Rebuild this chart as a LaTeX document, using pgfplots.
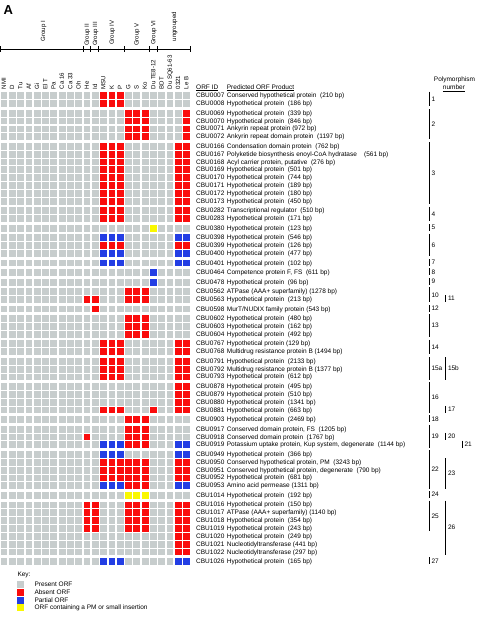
\documentclass[border=0pt]{standalone}
\usepackage{pgfplots}
\pgfplotsset{compat=1.18}
\usepackage{pgfplotstable}
\usepackage{fontspec}
\setmainfont{Liberation Sans}
\definecolor{cgray}{RGB}{199,205,205}
\definecolor{cred}{RGB}{250,12,12}
\definecolor{cblue}{RGB}{35,62,228}
\definecolor{cyel}{RGB}{250,248,0}
\newcommand\sm{\fontsize{6.5}{7.5}\selectfont}
\newcommand\smr{\fontsize{6.1}{7}\selectfont}

% g = present ORF, r = absent ORF, b = partial ORF, y = ORF containing a PM or small insertion
\pgfplotstableread{
y c0 c1 c2 c3 c4 c5 c6 c7 c8 c9 c10 c11 c12 c13 c14 c15 c16 c17 c18 c19 c20 c21 c22
95.5   g g g g g g g g g g g g r r r g g g g g g g g
103.35 g g g g g g g g g g g g r r r g g g g g g g g
112.9  g g g g g g g g g g g g g g g r r r g g g g r
120.75 g g g g g g g g g g g g g g g r r r g g g g r
128.6  g g g g g g g g g g g g g g g r r r g g g g r
136.45 g g g g g g g g g g g g g g g r r r g g g g r
146.0  g g g g g g g g g g g g r r r g g g g g g r r
153.85 g g g g g g g g g g g g r r r g g g g g g r r
161.7  g g g g g g g g g g g g r r r g g g g g g r r
169.55 g g g g g g g g g g g g r r r g g g g g g r r
177.4  g g g g g g g g g g g g r r r g g g g g g r r
185.25 g g g g g g g g g g g g r r r g g g g g g r r
193.1  g g g g g g g g g g g g r r r g g g g g g r r
200.95 g g g g g g g g g g g g r r r g g g g g g r r
210.5  g g g g g g g g g g g g r r r g g g g g g r r
218.35 g g g g g g g g g g g g r r r g g g g g g r r
227.9  g g g g g g g g g g g g g g g g g g y g g g g
237.45 g g g g g g g g g g g g b b b g g g g g g b b
245.3  g g g g g g g g g g g g r r r g g g g g g r r
253.15 g g g g g g g g g g g g b b b g g g g g g b b
262.7  g g g g g g g g g g g g b b b g g g g g g b b
272.25 g g g g g g g g g g g g g g g g g g b g g g g
281.8  g g g g g g g g g g g g g g g g g g b g g g g
291.35 g g g g g g g g g g g g g g g r r r g g g g g
299.2  g g g g g g g g g g r r g g g r r r g g g g g
308.75 g g g g g g g g g g g r g g g g g g g g g g g
318.3  g g g g g g g g g g g g g g g r r r g g g g g
326.15 g g g g g g g g g g g g g g g r r r g g g g g
334.0  g g g g g g g g g g g g g g g r r r g g g g g
343.55 g g g g g g g g g g g g r r r g g g g g g r r
351.4  g g g g g g g g g g g g r r r g g g g g g r r
360.95 g g g g g g g g g g g g r r r g g g g g g r r
368.8  g g g g g g g g g g g g r r r g g g g g g r r
376.65 g g g g g g g g g g g g r r r g g g g g g r r
386.2  g g g g g g g g g g g g g g g g g g g g g r r
394.05 g g g g g g g g g g g g g g g g g g g g g r r
401.9  g g g g g g g g g g g g g g g g g g g g g r r
409.75 g g g g g g g g g g g g r r r g g g r g g r r
419.3  g g g g g g g g g g g g g g g r r r g g g g g
428.85 g g g g g g g g g g g g g g g r r r g g g g g
436.7  g g g g g g g g g g r g g g g r r r g g g g g
444.55 g g g g g g g g g g g g b b b r r r g g g b b
454.1  g g g g g g g g g g g g b b b g g g g g g b b
461.95 g g g g g g g g g g g g r r r r r r g g g r r
469.8  g g g g g g g g g g g g r r r r r r g g g r r
477.65 g g g g g g g g g g g g r r r r r r g g g r r
485.5  g g g g g g g g g g g g b b b r r r g g g b b
495.05 g g g g g g g g g g g g g g g y y y g g g g g
504.6  g g g g g g g g g g r r g g g r r r g g g r r
512.45 g g g g g g g g g g r r g g g r r r g g g r r
520.3  g g g g g g g g g g r r g g g r r r g g g r r
528.15 g g g g g g g g g g r r g g g r r r g g g r r
536.0  g g g g g g g g g g g g g g g g g g g g g r r
543.85 g g g g g g g g g g g g g g g g g g g g g r r
551.7  g g g g g g g g g g g g g g g g g g g g g r r
561.25 g g g g g g g g g g g g b b b g g g g g g b b
}\grid

\tikzset{t/.style={font=\sm, inner sep=0pt},
  rl/.style={font=\smr, inner sep=0pt, rotate=90, anchor=west, text height=4.3pt, text depth=0pt},
  tx/.style={t, anchor=base west, yshift=-2.3pt},
  pn/.style={t, anchor=west}}
\newcommand\orf[3]{\node[tx] at (axis cs:196,#1) {#2}; \node[tx] at (axis cs:226.7,#1) {#3};}
\newcommand\pbar[6]{\draw[line width=1.1pt] (axis cs:#1,#2) -- (axis cs:#1,#3); \node[pn] at (axis cs:#4,#5) {#6};}

\begin{document}
\begin{tikzpicture}
\begin{axis}[x=1pt, y=1pt, y dir=reverse, xmin=0, xmax=480, ymin=0, ymax=619,
  hide axis, clip=false,
  scatter/classes={g={cgray}, r={cred}, b={cblue}, y={cyel}}]

\pgfplotsinvokeforeach{0,...,22}{
  \addplot[scatter, only marks, mark=square*, mark size=2.9pt, scatter src=explicit symbolic]
    table[x expr=3.7+8.3*#1, y=y, meta=c#1]{\grid};
}

% key
\addplot[only marks, mark=square*, mark size=3.0pt, color=cgray] coordinates {(20.3,583.7)};
\addplot[only marks, mark=square*, mark size=3.0pt, color=cred] coordinates {(20.3,591.7)};
\addplot[only marks, mark=square*, mark size=3.0pt, color=cblue] coordinates {(20.3,599.7)};
\addplot[only marks, mark=square*, mark size=3.0pt, color=cyel] coordinates {(20.3,607.5)};
\node[tx] at (axis cs:17.3,574.3) {Key:};
\node[tx] at (axis cs:34.3,583.7) {Present ORF};
\node[tx] at (axis cs:34.3,591.7) {Absent ORF};
\node[tx] at (axis cs:34.3,599.7) {Partial ORF};
\node[tx] at (axis cs:34.3,607.5) {ORF containing a PM or small insertion};

% panel letter
\node[anchor=base west, inner sep=0pt, font=\fontsize{13}{15}\selectfont\bfseries] at (axis cs:3.5,14) {A};

% group header
\draw[line width=0.6pt] (axis cs:0.7,49.3) -- (axis cs:190.7,49.3);
\draw[line width=0.6pt] (axis cs:0.7,46.3) -- (axis cs:0.7,52.3);
\draw[line width=0.6pt] (axis cs:83.3,46.3) -- (axis cs:83.3,52.3);
\draw[line width=0.6pt] (axis cs:90.7,46.3) -- (axis cs:90.7,52.3);
\draw[line width=0.6pt] (axis cs:98.3,46.3) -- (axis cs:98.3,52.3);
\draw[line width=0.6pt] (axis cs:124.1,46.3) -- (axis cs:124.1,52.3);
\draw[line width=0.6pt] (axis cs:149.0,46.3) -- (axis cs:149.0,52.3);
\draw[line width=0.6pt] (axis cs:157.3,46.3) -- (axis cs:157.3,52.3);
\draw[line width=0.6pt] (axis cs:190.7,46.3) -- (axis cs:190.7,52.3);
\node[rl] at (axis cs:43,41.5) {Group I};
\node[rl] at (axis cs:86.7,46) {Group II};
\node[rl] at (axis cs:95,46) {Group III};
\node[rl] at (axis cs:111.6,45) {Group IV};
\node[rl] at (axis cs:136.5,46) {Group V};
\node[rl] at (axis cs:153.1,45) {Group VI};
\node[rl] at (axis cs:174,41.5) {ungrouped};

% strain labels
\node[rl] at (axis cs:3.7,89.5) {NMI};
\node[rl] at (axis cs:12.0,89.5) {D};
\node[rl] at (axis cs:20.3,89.5) {Tu};
\node[rl] at (axis cs:28.6,89.5) {Af};
\node[rl] at (axis cs:36.9,89.5) {Gi};
\node[rl] at (axis cs:45.2,89.5) {El T};
\node[rl] at (axis cs:53.5,89.5) {Pa};
\node[rl] at (axis cs:61.8,89.5) {Ca 16};
\node[rl] at (axis cs:70.1,89.5) {Ca 33};
\node[rl] at (axis cs:78.4,89.5) {Oh};
\node[rl] at (axis cs:86.7,89.5) {He};
\node[rl] at (axis cs:95.0,89.5) {Id};
\node[rl] at (axis cs:103.3,89.5) {MSU};
\node[rl] at (axis cs:111.6,89.5) {K};
\node[rl] at (axis cs:119.9,89.5) {P};
\node[rl] at (axis cs:128.2,89.5) {G};
\node[rl] at (axis cs:136.5,89.5) {S};
\node[rl] at (axis cs:144.8,89.5) {Ko};
\node[rl] at (axis cs:153.1,89.5) {Du TE8-12};
\node[rl] at (axis cs:161.4,89.5) {BDT};
\node[rl] at (axis cs:169.7,89.5) {Du SQ61-63};
\node[rl] at (axis cs:178.0,89.5) {0321};
\node[rl] at (axis cs:186.3,89.5) {Le B};

% column headers
\node[tx] at (axis cs:196,86.7) {\underline{ORF ID}};
\node[tx] at (axis cs:226.7,86.7) {\underline{Predicted ORF Product}};
\node[t, anchor=base] at (axis cs:454.5,81.3) {Polymorphism};
\node[t, anchor=base] at (axis cs:454,89.3) {\underline{number}};

% ORF rows
\orf{95.5}{CBU0007}{Conserved hypothetical protein~~(210 bp)}
\orf{103.35}{CBU0008}{Hypothetical protein~~(186 bp)}
\orf{112.9}{CBU0069}{Hypothetical protein~~(339 bp)}
\orf{120.75}{CBU0070}{Hypothetical protein~~(846 bp)}
\orf{128.6}{CBU0071}{Ankyrin repeat protein (972 bp)}
\orf{136.45}{CBU0072}{Ankyrin repeat domain protein~~(1197 bp)}
\orf{146.0}{CBU0166}{Condensation domain protein~~(762 bp)}
\orf{153.85}{CBU0167}{Polyketide biosynthesis enoyl-CoA hydratase~~~~(561 bp)}
\orf{161.7}{CBU0168}{Acyl carrier protein, putative~~(276 bp)}
\orf{169.55}{CBU0169}{Hypothetical protein~~(501 bp)}
\orf{177.4}{CBU0170}{Hypothetical protein~~(744 bp)}
\orf{185.25}{CBU0171}{Hypothetical protein~~(189 bp)}
\orf{193.1}{CBU0172}{Hypothetical protein~~(180 bp)}
\orf{200.95}{CBU0173}{Hypothetical protein~~(450 bp)}
\orf{210.5}{CBU0282}{Transcriptional regulator~~(510 bp)}
\orf{218.35}{CBU0283}{Hypothetical protein~~(171 bp)}
\orf{227.9}{CBU0380}{Hypothetical protein~~(123 bp)}
\orf{237.45}{CBU0398}{Hypothetical protein~~(546 bp)}
\orf{245.3}{CBU0399}{Hypothetical protein~~(126 bp)}
\orf{253.15}{CBU0400}{Hypothetical protein~~(477 bp)}
\orf{262.7}{CBU0401}{Hypothetical protein~~(102 bp)}
\orf{272.25}{CBU0464}{Competence protein F, FS~~(611 bp)}
\orf{281.8}{CBU0478}{Hypothetical protein~~(96 bp)}
\orf{291.35}{CBU0562}{ATPase (AAA+ superfamily) (1278 bp)}
\orf{299.2}{CBU0563}{Hypothetical protein~~(213 bp)}
\orf{308.75}{CBU0598}{MurT/NUDIX family protein (543 bp)}
\orf{318.3}{CBU0602}{Hypothetical protein~~(480 bp)}
\orf{326.15}{CBU0603}{Hypothetical protein~~(162 bp)}
\orf{334.0}{CBU0604}{Hypothetical protein~~(492 bp)}
\orf{343.55}{CBU0767}{Hypothetical protein (129 bp)}
\orf{351.4}{CBU0768}{Multidrug resistance protein B (1494 bp)}
\orf{360.95}{CBU0791}{Hypothetical protein~~(2133 bp)}
\orf{368.8}{CBU0792}{Multidrug resistance protein B (1377 bp)}
\orf{376.65}{CBU0793}{Hypothetical protein~~(612 bp)}
\orf{386.2}{CBU0878}{Hypothetical protein~~(495 bp)}
\orf{394.05}{CBU0879}{Hypothetical protein~~(510 bp)}
\orf{401.9}{CBU0880}{Hypothetical protein~~(1341 bp)}
\orf{409.75}{CBU0881}{Hypothetical protein~~(663 bp)}
\orf{419.3}{CBU0903}{Hypothetical protein~~(2469 bp)}
\orf{428.85}{CBU0917}{Conserved domain protein, FS~~(1205 bp)}
\orf{436.7}{CBU0918}{Conserved domain protein~~(1767 bp)}
\orf{444.55}{CBU0919}{Potassium uptake protein, Kup system, degenerate~~(1144 bp)}
\orf{454.1}{CBU0949}{Hypothetical protein~~(366 bp)}
\orf{461.95}{CBU0950}{Conserved hypothetical protein, PM~~(3243 bp)}
\orf{469.8}{CBU0951}{Conserved hypothetical protein, degenerate~~(790 bp)}
\orf{477.65}{CBU0952}{Hypothetical protein~~(681 bp)}
\orf{485.5}{CBU0953}{Amino acid permease (1311 bp)}
\orf{495.05}{CBU1014}{Hypothetical protein~~(192 bp)}
\orf{504.6}{CBU1016}{Hypothetical protein~~(150 bp)}
\orf{512.45}{CBU1017}{ATPase (AAA+ superfamily) (1140 bp)}
\orf{520.3}{CBU1018}{Hypothetical protein~~(354 bp)}
\orf{528.15}{CBU1019}{Hypothetical protein~~(243 bp)}
\orf{536.0}{CBU1020}{Hypothetical protein~~(249 bp)}
\orf{543.85}{CBU1021}{Nucleotidyltransferase (441 bp)}
\orf{551.7}{CBU1022}{Nucleotidyltransferase (297 bp)}
\orf{561.25}{CBU1026}{Hypothetical protein~~(165 bp)}

% polymorphism brackets
\pbar{429.2}{91.6}{106.35}{431.3}{99.0}{1}
\pbar{429.2}{109.0}{139.45}{431.3}{124.2}{2}
\pbar{429.2}{142.1}{203.95}{431.3}{173.0}{3}
\pbar{429.2}{206.6}{221.35}{431.3}{214.0}{4}
\pbar{429.2}{224.0}{230.9}{431.3}{227.45}{5}
\pbar{429.2}{233.55}{256.15}{431.3}{244.85}{6}
\pbar{429.2}{258.8}{265.7}{431.3}{262.25}{7}
\pbar{429.2}{268.35}{275.25}{431.3}{271.8}{8}
\pbar{429.2}{277.9}{284.8}{431.3}{281.35}{9}
\pbar{429.2}{287.45}{302.2}{431.3}{294.8}{10}
\pbar{445.7}{295.3}{302.2}{447.8}{298.75}{11}
\pbar{429.2}{304.85}{311.75}{431.3}{308.3}{12}
\pbar{429.2}{314.4}{337.0}{431.3}{325.7}{13}
\pbar{429.2}{339.65}{354.4}{431.3}{347.0}{14}
\pbar{429.2}{357.05}{379.65}{431.3}{368.35}{15a}
\pbar{445.7}{357.05}{379.65}{447.8}{368.35}{15b}
\pbar{429.2}{382.3}{412.75}{431.3}{397.5}{16}
\pbar{445.7}{405.85}{412.75}{447.8}{409.3}{17}
\pbar{429.2}{415.4}{422.3}{431.3}{418.85}{18}
\pbar{429.2}{424.95}{447.55}{431.3}{436.25}{19}
\pbar{445.7}{432.8}{439.7}{447.8}{436.25}{20}
\pbar{462.3}{440.65}{447.55}{464.4}{444.1}{21}
\pbar{429.2}{450.2}{488.5}{431.3}{469.35}{22}
\pbar{445.7}{458.05}{488.5}{447.8}{473.3}{23}
\pbar{429.2}{491.15}{498.05}{431.3}{494.6}{24}
\pbar{429.2}{500.7}{531.15}{431.3}{515.9}{25}
\pbar{445.7}{500.7}{554.7}{447.8}{527.7}{26}
\pbar{429.2}{557.35}{564.25}{431.3}{560.8}{27}
\end{axis}
\pgfresetboundingbox
\path[use as bounding box] (current axis.south west) rectangle (current axis.north east);
\end{tikzpicture}
\end{document}
